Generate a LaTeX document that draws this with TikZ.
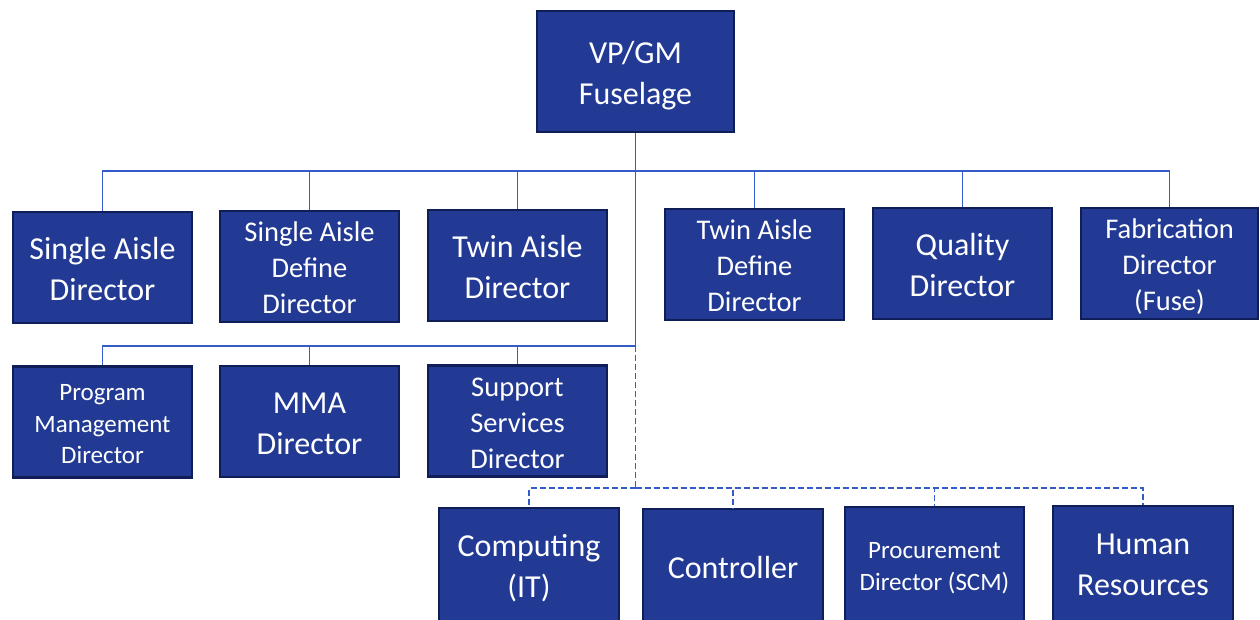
\documentclass[tikz,border=0pt]{standalone}
\usepackage{fontspec}
\setmainfont{Carlito}
\definecolor{boxfill}{RGB}{34,58,148}
\definecolor{boxline}{RGB}{16,30,88}
\definecolor{conncol}{RGB}{52,92,200}
\newcommand\boxtxt[2][-4pt]{\raisebox{#1}[\height][\depth]{\begin{tabular}{@{}c@{}}#2\end{tabular}}}
\tikzset{
  box/.style={draw=boxline, line width=2.5pt, fill=boxfill, text=white,
    minimum width=179pt, minimum height=111pt, inner sep=0pt},
  big/.style={font=\fontsize{32}{41}\selectfont},
  mid/.style={font=\fontsize{28.5}{36}\selectfont},
  small/.style={font=\fontsize{25}{31.5}\selectfont},
  conn/.style={draw=conncol, line width=1.3pt},
  dconn/.style={draw=conncol, line width=1.3pt, dash pattern=on 6pt off 3pt},
}
\begin{document}
\begin{tikzpicture}[x=1pt,y=-1pt]
\useasboundingbox (0,0) rectangle (1260,620);
\clip (0,0) rectangle (1260,620);
\fill[white] (0,0) rectangle (1260,620);
% top
\node[box,big,minimum width=197pt,minimum height=121pt] (vp) at (635.5,71.5) {\boxtxt{VP/GM\\Fuselage}};
% row 1
\node[box,big] (r1a) at (102.5,267.5) {\boxtxt{Single Aisle\\Director}};
\node[box,mid] (r1b) at (309.5,266.5) {\boxtxt{Single Aisle\\Define\\Director}};
\node[box,big] (r1c) at (517.5,265.5) {\boxtxt{Twin Aisle\\Director}};
\node[box,mid] (r1d) at (754.5,264.5) {\boxtxt{Twin Aisle\\Define\\Director}};
\node[box,big] (r1e) at (962.5,263.5) {\boxtxt{Quality\\Director}};
\node[box,mid,minimum width=177pt] (r1f) at (1169.5,263.5) {\boxtxt{Fabrication\\Director\\(Fuse)}};
% row 2
\node[box,small] (r2a) at (102.5,422) {\boxtxt{Program\\Management\\Director}};
\node[box,big] (r2b) at (309.5,421.5) {\boxtxt{MMA\\Director}};
\node[box,mid] (r2c) at (517.5,421) {\boxtxt{Support\\Services\\Director}};
% row 3 (boxes run past the lower edge)
\node[box,big,minimum width=180pt,minimum height=130pt] (r3a) at (529,573) {\boxtxt[4pt]{Computing\\(IT)}};
\node[box,big,minimum width=180pt,minimum height=130pt] (r3b) at (733,574) {\boxtxt[4pt]{Controller}};
\node[box,small,minimum width=179pt,minimum height=130pt] (r3c) at (934.5,572) {\boxtxt[4pt]{Procurement\\Director (SCM)}};
\node[box,big,minimum width=180pt,minimum height=130pt] (r3d) at (1143,571) {\boxtxt[4pt]{Human\\Resources}};
% junctions
\coordinate (j1) at (635.5,171);
\coordinate (j2) at (635.5,346);
\coordinate (j3) at (635.5,488);
% connectors
\draw[conn] (vp.south) -- (j2);
\draw[dconn] (j2) -- (j3);
\foreach \n in {r1a,r1b,r1c,r1d,r1e,r1f} { \draw[conn] (j1) -| (\n.north); }
\foreach \n in {r2a,r2b,r2c} { \draw[conn] (j2) -| (\n.north); }
\foreach \n in {r3a,r3b,r3c,r3d} { \draw[dconn] (j3) -| (\n.north); }
\end{tikzpicture}
\end{document}
